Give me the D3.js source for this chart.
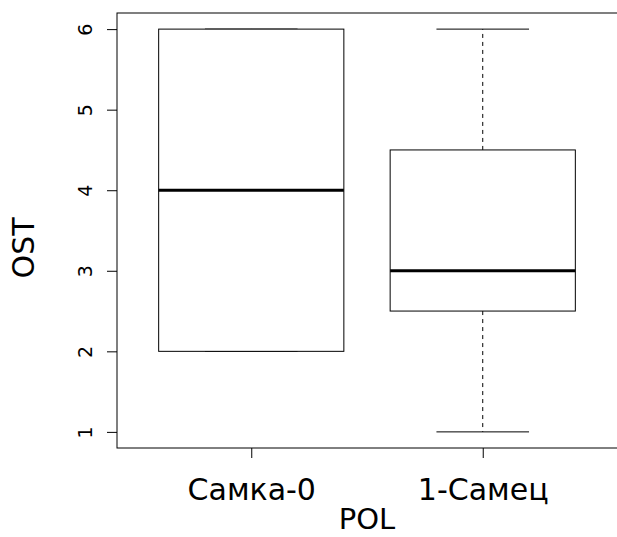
<!DOCTYPE html>
<html>
<head>
<meta charset="utf-8">
<script src="https://cdn.jsdelivr.net/npm/d3@7"></script>
<style>
  body { margin: 0; background: #fff; }
  text { font-family: "Century Gothic", "DejaVu Sans", sans-serif; fill: #000; }
</style>
</head>
<body>
<svg id="chart" width="617" height="537"></svg>
<script>
// groups and their box statistics
let groups = ["Самка-0", "1-Самец"];
let whiskLo = [2, 1];
let q1 = [2, 2.5];
let med = [4, 3];
let q3 = [6, 4.5];
let whiskHi = [6, 6];
let yTicks = [1, 2, 3, 4, 5, 6];

let svg = d3.select("#chart");
let margin = {top: 13, left: 117, right: 0, bottom: 89};
let W = 617, H = 537;

// R style: xlim 0.5..2.5 and ylim 1..6 with 4% extension
let x = d3.scaleLinear().domain([0.42, 2.58]).range([margin.left, W - margin.right]);
let y = d3.scaleLinear().domain([0.8, 6.2]).range([H - margin.bottom, margin.top]);

let boxes = groups.map((g, i) => ({
    name: g, pos: i + 1,
    lo: whiskLo[i], q1: q1[i], med: med[i], q3: q3[i], hi: whiskHi[i]
}));

let halfBox = x(1.4) - x(1);
let halfStaple = x(1.2) - x(1);

// whiskers
let bx = svg.append("g").attr("stroke", "#000").attr("fill", "none");
bx.selectAll(".wh-up").data(boxes).enter().append("line")
    .attr("x1", d => x(d.pos)).attr("x2", d => x(d.pos))
    .attr("y1", d => y(d.q3)).attr("y2", d => y(d.hi))
    .attr("stroke-dasharray", "4,4");
bx.selectAll(".wh-lo").data(boxes).enter().append("line")
    .attr("x1", d => x(d.pos)).attr("x2", d => x(d.pos))
    .attr("y1", d => y(d.q1)).attr("y2", d => y(d.lo))
    .attr("stroke-dasharray", "4,4");
// staples
bx.selectAll(".st-hi").data(boxes).enter().append("line")
    .attr("x1", d => x(d.pos) - halfStaple).attr("x2", d => x(d.pos) + halfStaple)
    .attr("y1", d => y(d.hi)).attr("y2", d => y(d.hi));
bx.selectAll(".st-lo").data(boxes).enter().append("line")
    .attr("x1", d => x(d.pos) - halfStaple).attr("x2", d => x(d.pos) + halfStaple)
    .attr("y1", d => y(d.lo)).attr("y2", d => y(d.lo));
// boxes
bx.selectAll("rect").data(boxes).enter().append("rect")
    .attr("x", d => x(d.pos) - halfBox)
    .attr("width", 2 * halfBox)
    .attr("y", d => y(d.q3))
    .attr("height", d => y(d.q1) - y(d.q3))
    .attr("fill", "#fff");
// medians
bx.selectAll(".med").data(boxes).enter().append("line")
    .attr("x1", d => x(d.pos) - halfBox).attr("x2", d => x(d.pos) + halfBox)
    .attr("y1", d => y(d.med)).attr("y2", d => y(d.med))
    .attr("stroke-width", 3);

// frame
svg.append("rect")
    .attr("x", margin.left).attr("y", margin.top)
    .attr("width", W - margin.right - margin.left + 5)
    .attr("height", H - margin.bottom - margin.top)
    .attr("fill", "none").attr("stroke", "#000");

// y axis
let yAxis = svg.append("g")
    .attr("transform", "translate(" + margin.left + ",0)")
    .call(d3.axisLeft(y).tickValues(yTicks).tickSize(10).tickFormat(d3.format("d")));
yAxis.select(".domain").remove();
yAxis.selectAll(".tick line").attr("stroke", "#000");
yAxis.selectAll(".tick text")
    .attr("x", null).attr("dy", null)
    .attr("text-anchor", "middle")
    .attr("transform", "translate(-25,0) rotate(-90)")
    .style("font-size", "19px")
    .style("font-family", "'Century Gothic', 'DejaVu Sans', sans-serif");

// x axis
let xAxis = svg.append("g")
    .attr("transform", "translate(0," + (H - margin.bottom) + ")")
    .call(d3.axisBottom(x).tickValues([1, 2]).tickSize(10).tickFormat(d => groups[d - 1]));
xAxis.select(".domain").remove();
xAxis.selectAll(".tick line").attr("stroke", "#000");
xAxis.selectAll(".tick text")
    .attr("y", 52).attr("dy", null)
    .style("font-size", "30px")
    .style("font-family", "'Century Gothic', 'DejaVu Sans', sans-serif");

// axis titles
svg.append("text")
    .attr("x", (margin.left + W - margin.right) / 2)
    .attr("y", 529)
    .attr("text-anchor", "middle")
    .style("font-size", "29px")
    .text("POL");

svg.append("text")
    .attr("transform", "translate(34,248) rotate(-90)")
    .attr("text-anchor", "middle")
    .style("font-size", "30px")
    .text("OST");
</script>
</body>
</html>
